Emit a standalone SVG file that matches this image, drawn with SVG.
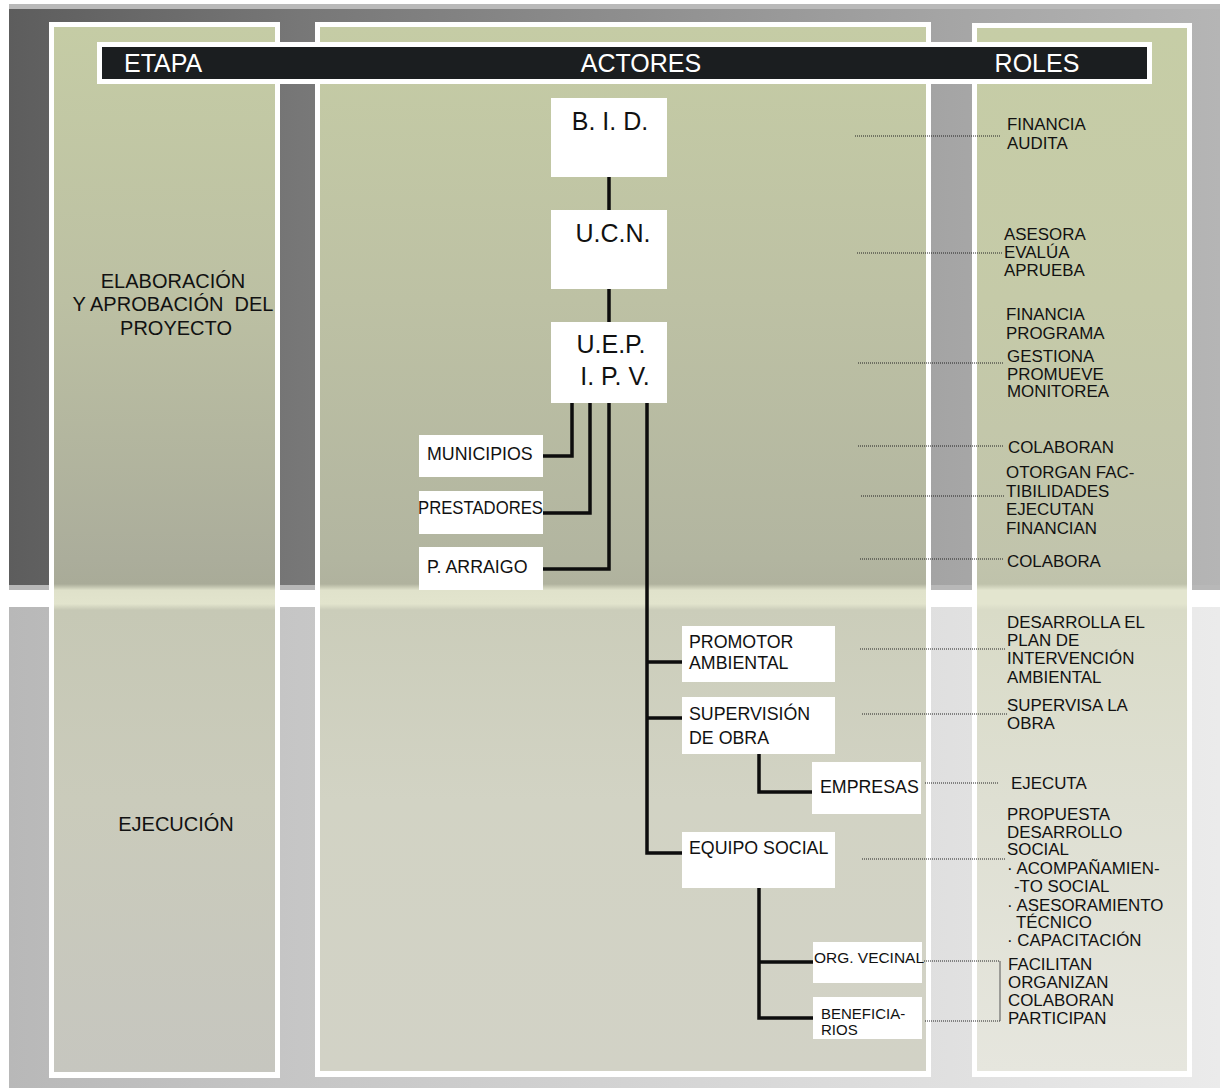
<svg xmlns="http://www.w3.org/2000/svg" width="1223" height="1088" viewBox="0 0 1223 1088">
<defs>
<linearGradient id="bgUp" gradientUnits="userSpaceOnUse" x1="9" y1="0" x2="1220" y2="0">
<stop offset="0" stop-color="#5d5d5d"/><stop offset="0.24" stop-color="#777777"/><stop offset="0.777" stop-color="#a5a5a5"/><stop offset="1" stop-color="#b5b5b5"/>
</linearGradient>
<linearGradient id="bgLow" gradientUnits="userSpaceOnUse" x1="9" y1="0" x2="1220" y2="0">
<stop offset="0" stop-color="#b8b8b8"/><stop offset="0.24" stop-color="#c6c6c6"/><stop offset="0.777" stop-color="#e0e0e0"/><stop offset="1" stop-color="#ebebeb"/>
</linearGradient>
<linearGradient id="colA" gradientUnits="userSpaceOnUse" x1="0" y1="27" x2="0" y2="1072">
<stop offset="0" stop-color="#c5cca5"/><stop offset="0.261" stop-color="#bcc0a3"/><stop offset="0.51" stop-color="#abad9b"/><stop offset="0.533" stop-color="#a9ab98"/><stop offset="0.539" stop-color="#dfe1ca"/><stop offset="0.552" stop-color="#e2e4cd"/><stop offset="0.558" stop-color="#c6c8b5"/><stop offset="0.74" stop-color="#cacbbb"/><stop offset="1" stop-color="#c6c6bf"/>
</linearGradient>
<linearGradient id="colB" gradientUnits="userSpaceOnUse" x1="0" y1="27" x2="0" y2="1072">
<stop offset="0" stop-color="#c5cca5"/><stop offset="0.261" stop-color="#bdc1a4"/><stop offset="0.51" stop-color="#b2b5a0"/><stop offset="0.533" stop-color="#b0b29e"/><stop offset="0.539" stop-color="#e0e2cb"/><stop offset="0.552" stop-color="#e2e4cd"/><stop offset="0.558" stop-color="#cbcdba"/><stop offset="0.74" stop-color="#d2d3c4"/><stop offset="1" stop-color="#d2d2c6"/>
</linearGradient>
<linearGradient id="colC" gradientUnits="userSpaceOnUse" x1="0" y1="27" x2="0" y2="1072">
<stop offset="0" stop-color="#c6cda6"/><stop offset="0.261" stop-color="#c5caa8"/><stop offset="0.51" stop-color="#c1c4ac"/><stop offset="0.533" stop-color="#bfc2ab"/><stop offset="0.539" stop-color="#e3e5cf"/><stop offset="0.552" stop-color="#e3e5cf"/><stop offset="0.558" stop-color="#d9dbc7"/><stop offset="0.74" stop-color="#dedfd2"/><stop offset="1" stop-color="#e6e6de"/>
</linearGradient>
</defs>
<style>
.t{font-family:"Liberation Sans",Arial,sans-serif;fill:#111}
.hd{font-family:"Liberation Sans",Arial,sans-serif;fill:#fff;font-size:25px}
.big{font-size:25px}
.nd{font-size:17.8px}
.sm{font-size:15px}
.role{font-size:16.9px}
.lc{font-size:20px}
.box{fill:#fff}
.ln{stroke:#0d0d0d;stroke-width:3.5;fill:none;stroke-linejoin:miter}
.dot{stroke:#222;stroke-width:1;stroke-dasharray:1 1;fill:none}
.brk{stroke:#555;stroke-width:1;fill:none}
</style>
<rect x="0" y="0" width="1223" height="1088" fill="#ffffff"/>
<g id="background">
<rect x="9" y="4" width="1211" height="6" fill="#b9b9b9"/>
<rect x="9" y="9" width="1211" height="576" fill="url(#bgUp)"/>
<rect x="9" y="585" width="1211" height="5" fill="#b8b8b8"/>
<rect x="9" y="607" width="1211" height="481" fill="url(#bgLow)"/>
</g>
<g id="columns">
<rect x="49" y="22" width="231" height="1056" fill="#fff"/>
<rect x="54" y="27" width="221" height="1045" fill="url(#colA)"/>
<rect x="315" y="22" width="616" height="1055" fill="#fff"/>
<rect x="320" y="27" width="606" height="1044" fill="url(#colB)"/>
<rect x="972" y="23" width="220" height="1054" fill="#fff"/>
<rect x="977" y="28" width="210" height="1043" fill="url(#colC)"/>
</g>
<g id="header">
<rect x="97" y="42" width="1055" height="42" fill="#fff"/>
<rect x="102" y="47" width="1045" height="32" fill="#1b1e20"/>
<text class="hd" x="124" y="72">ETAPA</text>
<text class="hd" x="641" y="72" text-anchor="middle">ACTORES</text>
<text class="hd" x="1037" y="72" text-anchor="middle">ROLES</text>
</g>
<g id="stages">
<text class="t lc" x="173" y="288" text-anchor="middle">ELABORACIÓN</text>
<text class="t lc" x="173" y="311" text-anchor="middle" xml:space="preserve">Y APROBACIÓN  DEL</text>
<text class="t lc" x="176" y="335" text-anchor="middle">PROYECTO</text>
<text class="t lc" x="176" y="831" text-anchor="middle">EJECUCIÓN</text>
</g>
<g id="connectors">
<path class="ln" d="M609 177V210M609 289V322"/>
<path class="ln" d="M572 403V456H543"/>
<path class="ln" d="M590 403V513H543"/>
<path class="ln" d="M609 403V569H543"/>
<path class="ln" d="M647 403V853H682"/>
<path class="ln" d="M647 662H682M647 718H682"/>
<path class="ln" d="M759 754V792H812"/>
<path class="ln" d="M759 888V1018H813M759 962H813"/>
<path class="dot" d="M855 136H1001"/>
<path class="dot" d="M857 253H1003"/>
<path class="dot" d="M858 363H1004"/>
<path class="dot" d="M858 446H1004"/>
<path class="dot" d="M861 496H1005"/>
<path class="dot" d="M860 559H1004"/>
<path class="dot" d="M860 649H1005"/>
<path class="dot" d="M862 714H1007"/>
<path class="dot" d="M925 783H998"/>
<path class="dot" d="M862 859H1005"/>
<path class="dot" d="M924 961H1000M925 1021H1000"/>
<path class="brk" d="M1000 961V1021"/>
</g>
<g id="node-bid"><rect class="box" x="551" y="98" width="116" height="79"/><text class="t big" x="610" y="130" text-anchor="middle">B. I. D.</text></g>
<g id="node-ucn"><rect class="box" x="551" y="210" width="116" height="79"/><text class="t big" x="613" y="242" text-anchor="middle">U.C.N.</text></g>
<g id="node-uep"><rect class="box" x="551" y="322" width="116" height="81"/><text class="t big" x="611" y="353" text-anchor="middle">U.E.P.</text><text class="t big" x="615" y="385" text-anchor="middle">I. P. V.</text></g>
<g id="node-municipios"><rect class="box" x="419" y="435" width="124" height="42"/><text class="t nd" x="427" y="460">MUNICIPIOS</text></g>
<g id="node-prestadores"><rect class="box" x="419" y="491" width="124" height="43"/><text class="t nd" x="418" y="514" textLength="125" lengthAdjust="spacingAndGlyphs">PRESTADORES</text></g>
<g id="node-arraigo"><rect class="box" x="419" y="547" width="124" height="43"/><text class="t nd" x="427" y="573">P. ARRAIGO</text></g>
<g id="node-promotor"><rect class="box" x="682" y="626" width="153" height="56"/><text class="t nd" x="689" y="648">PROMOTOR</text><text class="t nd" x="689" y="669">AMBIENTAL</text></g>
<g id="node-supervision"><rect class="box" x="682" y="697" width="153" height="57"/><text class="t nd" x="689" y="720">SUPERVISIÓN</text><text class="t nd" x="689" y="744">DE OBRA</text></g>
<g id="node-empresas"><rect class="box" x="812" y="762" width="109" height="52"/><text class="t nd" x="820" y="793">EMPRESAS</text></g>
<g id="node-equipo"><rect class="box" x="682" y="832" width="153" height="56"/><text class="t nd" x="689" y="854">EQUIPO SOCIAL</text></g>
<g id="node-orgvecinal"><rect class="box" x="813" y="942" width="109" height="41"/><text class="t sm" x="814" y="963" textLength="110" lengthAdjust="spacingAndGlyphs">ORG. VECINAL</text></g>
<g id="node-beneficiarios"><rect class="box" x="813" y="997" width="109" height="42"/><text class="t sm" x="821" y="1019">BENEFICIA-</text><text class="t sm" x="821" y="1035">RIOS</text></g>
<g id="roles">
<text class="t role" x="1007" y="130">FINANCIA</text>
<text class="t role" x="1007" y="149">AUDITA</text>
<text class="t role" x="1004" y="240">ASESORA</text>
<text class="t role" x="1004" y="258">EVALÚA</text>
<text class="t role" x="1004" y="276">APRUEBA</text>
<text class="t role" x="1006" y="320">FINANCIA</text>
<text class="t role" x="1006" y="339">PROGRAMA</text>
<text class="t role" x="1007" y="362">GESTIONA</text>
<text class="t role" x="1007" y="380">PROMUEVE</text>
<text class="t role" x="1007" y="397">MONITOREA</text>
<text class="t role" x="1008" y="453">COLABORAN</text>
<text class="t role" x="1006" y="478">OTORGAN FAC-</text>
<text class="t role" x="1006" y="497">TIBILIDADES</text>
<text class="t role" x="1006" y="515">EJECUTAN</text>
<text class="t role" x="1006" y="534">FINANCIAN</text>
<text class="t role" x="1007" y="567">COLABORA</text>
<text class="t role" x="1007" y="628">DESARROLLA EL</text>
<text class="t role" x="1007" y="646">PLAN DE</text>
<text class="t role" x="1007" y="664">INTERVENCIÓN</text>
<text class="t role" x="1007" y="683">AMBIENTAL</text>
<text class="t role" x="1007" y="711">SUPERVISA LA</text>
<text class="t role" x="1007" y="729">OBRA</text>
<text class="t role" x="1011" y="789">EJECUTA</text>
<text class="t role" x="1007" y="820">PROPUESTA</text>
<text class="t role" x="1007" y="838">DESARROLLO</text>
<text class="t role" x="1007" y="855">SOCIAL</text>
<text class="t role" x="1007" y="874">· ACOMPAÑAMIEN-</text>
<text class="t role" x="1014" y="892">-TO SOCIAL</text>
<text class="t role" x="1007" y="911">· ASESORAMIENTO</text>
<text class="t role" x="1016" y="928">TÉCNICO</text>
<text class="t role" x="1007" y="946">· CAPACITACIÓN</text>
<text class="t role" x="1008" y="970">FACILITAN</text>
<text class="t role" x="1008" y="988">ORGANIZAN</text>
<text class="t role" x="1008" y="1006">COLABORAN</text>
<text class="t role" x="1008" y="1024">PARTICIPAN</text>
</g>
</svg>
